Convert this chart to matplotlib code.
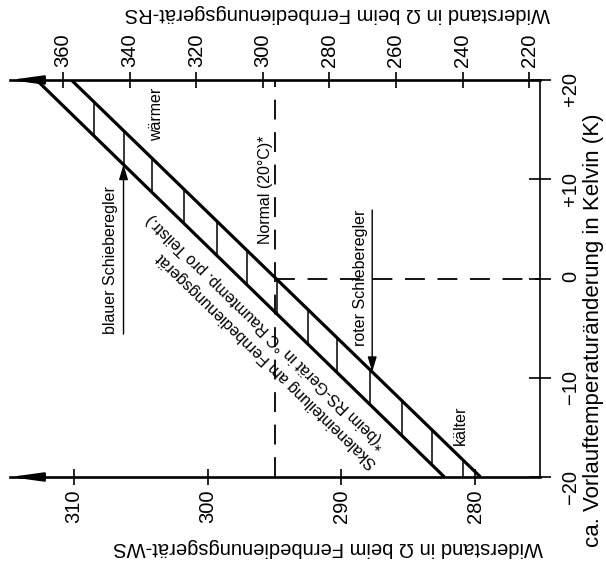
import numpy as np
import matplotlib
matplotlib.use("Agg")
import matplotlib.pyplot as plt

plt.rcParams['font.family'] = ['Liberation Sans', 'DejaVu Sans']

# Vorlauftemperaturänderung (K) an den Enden des Bandes
k_ends = [-20, 20]
# Widerstand WS (Ohm) der beiden Bandkanten
ws_inner = [279.6, 310.2]
ws_outer = [282.3, 312.8]
# Teilstriche (WS-Widerstand) zwischen den Kanten
ws_marks = [308.5, 306.3, 304.2, 301.8, 299.3, 297.1, 294.8,
            292.5, 290.3, 287.9, 285.5, 283.2, 280.9]
# Normalpunkt (20 °C)
ws_normal = 295.0
k_normal = 0

ws_ticks = [310, 300, 290, 280]
rs_ticks = [360, 340, 320, 300, 280, 260, 240, 220]
k_ticks = [-20, -10, 0, 10, 20]
k_labels = ['\u221220', '\u221210', '0', '+10', '+20']

# Umrechnung WS <-> RS
def ws2rs(w):
    return 356.7 - 4.016 * (310 - np.asarray(w, dtype=float))

def rs2ws(r):
    return 310 - (356.7 - np.asarray(r, dtype=float)) / 4.016

fig = plt.figure(figsize=(6.06, 5.65), dpi=100)
ax = fig.add_axes([10/606, 1-477/565, 530/606, 397/565])
ax.set_xlim(314.79, 275.15)
ax.set_ylim(-20, 20)

# Band
ax.plot(ws_inner, k_ends, color='black', lw=2.3, solid_capstyle='butt')
ax.plot(ws_outer, k_ends, color='black', lw=2.3, solid_capstyle='butt')
for w in ws_marks:
    k1 = np.interp(w, ws_inner, k_ends)
    k2 = np.interp(w, ws_outer, k_ends)
    ax.plot([w, w], [k1, k2], color='black', lw=1.1)

# gestrichelte Linien
ax.plot([ws_normal, ws_normal], [-20, 20], color='black', lw=1.3,
        linestyle=(0, (11, 7)))
ax.plot([ws_normal, 275.15], [k_normal, k_normal], color='black', lw=1.3,
        linestyle=(0, (11, 7)))

# Achsen
for s in ['left', 'top']:
    ax.spines[s].set_visible(False)
ax.spines['bottom'].set_linewidth(1.9)
ax.spines['right'].set_linewidth(1.2)
ax.set_xticks(ws_ticks)
ax.tick_params(axis='x', direction='inout', length=12, width=1.2,
               labelsize=14.5, labelrotation=90, pad=3)
ax.yaxis.tick_right()
ax.set_yticks(k_ticks)
ax.set_yticklabels(k_labels)
ax.tick_params(axis='y', direction='inout', length=16, width=1.2,
               labelsize=14.5, labelrotation=90, pad=7)
ax.yaxis.set_label_position('right')
ax.set_ylabel('ca. Vorlauftemperaturänderung in Kelvin (K)', fontsize=16,
              rotation=90, ha='center', va='center')
ax.yaxis.set_label_coords(1.10, 0.37)
ax.set_xlabel('Widerstand in \u03a9 beim Fernbedienungsgerät-WS', fontsize=14.5,
              rotation=180, ha='center', va='center')
ax.xaxis.set_label_coords(0.60, -0.178)

sec = ax.secondary_xaxis('top', functions=(ws2rs, rs2ws))
sec.set_xticks(rs_ticks)
sec.spines['top'].set_linewidth(1.9)
sec.tick_params(direction='inout', length=12, width=1.2, labelsize=14.5,
                labelrotation=90, pad=3)
sec.set_xlabel('Widerstand in \u03a9 beim Fernbedienungsgerät-RS', fontsize=14.5,
               rotation=180, ha='center', va='center')
sec.xaxis.set_label_coords(0.617, 1.167, transform=ax.transAxes)

# Pfeilspitzen links
for y in [0, 1]:
    ax.annotate('', xy=(0, y), xycoords='axes fraction', xytext=(0.06, y),
                textcoords='axes fraction',
                arrowprops=dict(arrowstyle='-|>,head_length=1.6,head_width=0.22',
                                color='black', lw=1.6, shrinkA=0, shrinkB=0,
                                mutation_scale=12))

# Schieberegler
k_blue = np.interp(306.3, ws_outer, k_ends)
ax.annotate('', xy=(306.3, k_blue), xytext=(306.3, -5.6),
            arrowprops=dict(arrowstyle='-|>,head_length=0.6,head_width=0.18',
                            color='black', lw=1.0, shrinkA=0, shrinkB=0,
                            mutation_scale=15))
ax.text(307.3, 1.9, 'blauer Schieberegler', rotation=90, fontsize=11.5,
        ha='center', va='center')
k_red = np.interp(287.7, ws_inner, k_ends)
ax.annotate('', xy=(287.7, k_red), xytext=(287.7, 6.9),
            arrowprops=dict(arrowstyle='-|>,head_length=0.6,head_width=0.18',
                            color='black', lw=1.0, shrinkA=0, shrinkB=0,
                            mutation_scale=15))
ax.text(288.6, 0.05, 'roter Schieberegler', rotation=90, fontsize=11.5,
        ha='center', va='center')

ax.text(303.8, 16.5, 'wärmer', rotation=90, fontsize=11.5, ha='center', va='center')
ax.text(281.1, -14.8, 'kälter', rotation=90, fontsize=11.5, ha='center', va='center')
ax.text(295.7, 8.9, 'Normal (20°C)*', rotation=90, fontsize=11.5,
        ha='center', va='center')

ax.text(295.56, -8.3, 'Skaleneinteilung am Fernbedienungsgerät', rotation=135.8,
        rotation_mode='anchor', fontsize=11.5, ha='center', va='center')
ax.text(295.64, -5.3, '*(beim RS-Gerät in °C Raumtemp. pro Teilstr.)',
        rotation=135.8, rotation_mode='anchor', fontsize=11.5,
        ha='center', va='center')

fig.savefig('out.png', dpi=100)
